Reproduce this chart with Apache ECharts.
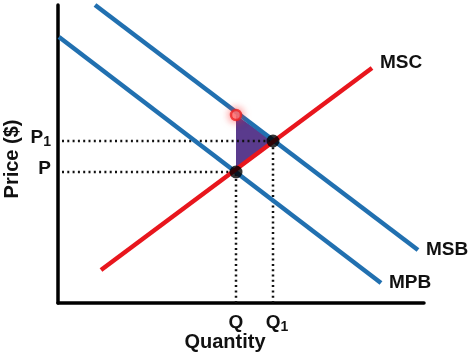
<!DOCTYPE html>
<html>
<head>
<meta charset="utf-8">
<script src="https://cdn.jsdelivr.net/npm/echarts@6/dist/echarts.min.js"></script>
<style>
html,body{margin:0;padding:0;background:#fff;}
#c{width:474px;height:355px;}
</style>
</head>
<body>
<div id="c"></div>
<script>
// Curve end points (quantity, price) in chart units
const msbX = [37, 360], msbY = [298, 53];
const mpbX = [1, 323],  mpbY = [266, 20];
const mscX = [43, 314], mscY = [33, 235];
// Equilibria: Q (MPB = MSC) and Q1 (MSB = MSC)
const eqX = [178, 215], eqY = [131, 162];
// Point on MSB above Q
const topX = [178], topY = [188];
// Tick labels
const qLabels = ['Q', 'Q1'];
const pLabels = ['P', 'P1'];
const curveNames = ['MSB', 'MPB', 'MSC'];

const BLUE = '#2170b0', RED = '#e8161d', PURPLE = '#5a3b8d';
const FONT = 'Liberation Sans, Arial, sans-serif';

function pairs(xs, ys) { return xs.map((x, i) => [x, ys[i]]); }
function sub(lbl) {
  return lbl.length > 1 ? '{a|' + lbl[0] + '}{s|' + lbl.slice(1) + '}' : '{a|' + lbl + '}';
}
const rich = {
  a: {fontSize: 19, fontWeight: 'bold', fontFamily: FONT, color: '#111', lineHeight: 22},
  s: {fontSize: 14, fontWeight: 'bold', fontFamily: FONT, color: '#111', lineHeight: 14, padding: [9, 0, 0, 0], verticalAlign: 'bottom'}
};
const richQ = {
  a: {fontSize: 19, fontWeight: 'bold', fontFamily: FONT, color: '#111', lineHeight: 22},
  b: {fontSize: 19, fontWeight: 'bold', fontFamily: FONT, color: '#111', lineHeight: 22, padding: [0, 0, 0, 8]},
  s: {fontSize: 14, fontWeight: 'bold', fontFamily: FONT, color: '#111', lineHeight: 14, padding: [9, 0, 0, 0], verticalAlign: 'bottom'}
};

function curve(name, xs, ys, color, offset) {
  return {
    type: 'line', name: name, data: pairs(xs, ys), symbol: 'none', clip: false, z: 3,
    lineStyle: {color: color, width: 4.5},
    endLabel: {show: true, formatter: name, distance: 8, offset: offset,
      fontSize: 19, fontWeight: 'bold', fontFamily: FONT, color: '#111'},
    emphasis: {disabled: true}
  };
}
function dotted(data) {
  return {type: 'line', data: data, symbol: 'none', z: 2, silent: true,
    lineStyle: {color: '#111', width: 2.5, type: [2, 3.3]}};
}

const option = {
  animation: false,
  grid: {left: 58, right: 50, top: 5, bottom: 52, outerBoundsMode: 'none', containLabel: false},
  xAxis: {
    type: 'value', min: 0, max: 366,
    splitLine: {show: false}, axisTick: {show: false},
    axisLine: {show: true, onZero: false, lineStyle: {color: '#000', width: 3.5}},
    axisLabel: {customValues: eqX, margin: 9,
      formatter: v => { const i = eqX.indexOf(v); const l = qLabels[i];
        return l.length > 1 ? '{b|' + l[0] + '}{s|' + l.slice(1) + '}' : '{a|' + l + '}'; },
      rich: richQ},
    name: 'Quantity', nameLocation: 'middle', nameGap: 29, nameMoveOverlap: false,
    nameTextStyle: {fontSize: 20, fontWeight: 'bold', fontFamily: FONT, color: '#111', padding: [0, 32, 0, 0]}
  },
  yAxis: {
    type: 'value', min: 0, max: 298,
    splitLine: {show: false}, axisTick: {show: false},
    axisLine: {show: true, onZero: false, lineStyle: {color: '#000', width: 3.5}},
    axisLabel: {customValues: eqY, margin: 7, padding: [0, 0, 6, 0],
      formatter: v => sub(pLabels[eqY.indexOf(v)]), rich: rich},
    name: 'Price ($)', nameLocation: 'middle', nameGap: 36, nameMoveOverlap: false,
    nameTextStyle: {fontSize: 20, fontWeight: 'bold', fontFamily: FONT, color: '#111', padding: [0, 10, 0, 0]}
  },
  series: [
    {
      type: 'custom', z: 1, silent: true,
      data: [[eqX[0], eqY[0], eqX[1], eqY[1], topX[0], topY[0]]],
      renderItem: (params, api) => {
        const p1 = api.coord([api.value(0), api.value(1)]);
        const p2 = api.coord([api.value(2), api.value(3)]);
        const p3 = api.coord([api.value(4), api.value(5)]);
        return {type: 'polygon', shape: {points: [p1, p2, p3]}, style: {fill: PURPLE}};
      }
    },
    dotted([[4, eqY[1]], [eqX[1], eqY[1]]]),
    dotted([[4, eqY[0]], [eqX[0], eqY[0]]]),
    dotted([[eqX[0], 0], [eqX[0], eqY[0]]]),
    dotted([[eqX[1], 0], [eqX[1], eqY[1]]]),
    curve(curveNames[0], msbX, msbY, BLUE, [0, 0]),
    curve(curveNames[1], mpbX, mpbY, BLUE, [0, 0]),
    curve(curveNames[2], mscX, mscY, RED, [0, -5]),
    {
      type: 'scatter', z: 5, data: pairs(eqX, eqY), symbolSize: 13,
      itemStyle: {color: '#000'}
    },
    {
      type: 'scatter', z: 5, data: pairs(topX, topY), symbolSize: 10,
      itemStyle: {color: '#ff8a8a', borderColor: '#ee2222', borderWidth: 2.5,
        shadowBlur: 8, shadowColor: 'rgba(255,40,40,0.8)'}
    }
  ]
};
echarts.init(document.getElementById('c')).setOption(option);
</script>
</body>
</html>
